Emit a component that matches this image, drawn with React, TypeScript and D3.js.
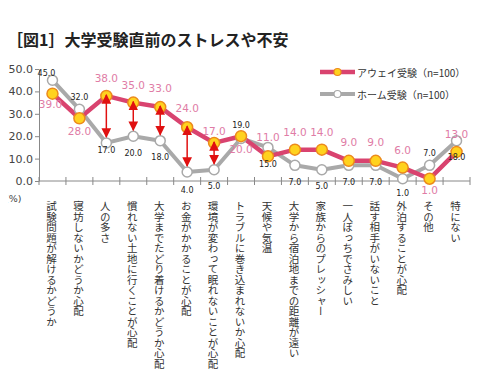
import { useEffect, useRef } from "react";
import * as d3 from "d3";

const categories = [
  "試験問題が解けるかどうか",
  "寝坊しないかどうか心配",
  "人の多さ",
  "慣れない土地に行くことが心配",
  "大学までたどり着けるかどうか心配",
  "お金がかかることが心配",
  "環境が変わって眠れないことが心配",
  "トラブルに巻き込まれないか心配",
  "天候や気温",
  "大学から宿泊地までの距離が遠い",
  "家族からのプレッシャー",
  "一人ぼっちでさみしい",
  "話す相手がいないこと",
  "外泊することが心配",
  "その他",
  "特にない",
];
const awayValues = [39, 28, 38, 35, 33, 24, 17, 20, 11, 14, 14, 9, 9, 6, 1, 13];
const homeValues = [45, 32, 17, 20, 18, 4, 5, 19, 15, 7, 5, 7, 7, 1, 7, 18];
const yTicks = [0, 10, 20, 30, 40, 50];
const arrowCategories = [
  "人の多さ",
  "慣れない土地に行くことが心配",
  "大学までたどり着けるかどうか心配",
  "お金がかかることが心配",
  "環境が変わって眠れないことが心配",
];
const seriesNames = ["アウェイ受験（n=100）", "ホーム受験（n=100）"];

// where each value label sits relative to its point
const awayLabelDy = [10, 13, -18, -18, -19, -19, -12, 13, -19, -18, -18, -19, -19, -18, 11, -18];
const homeLabelDy = [-7, -12, 8, 17, 17, 18, 17, -13, 17, 17, 17, 17, 17, 15, -12, 17];

const PINK = "#d9436f";
const PINK_TEXT = "#e07ca6";
const GRAY = "#a9a9a9";
const JP = "'Noto Sans CJK JP', 'Noto Sans', sans-serif";

const App = () => {
  const chartRef = useRef(null);

  useEffect(() => {
    const width = 479;
    const height = 386;

    const svg = d3
      .select(chartRef.current)
      .append("svg")
      .attr("width", width)
      .attr("height", height)
      .style("display", "block")
      .style("font-family", JP);

    const x = d3.scaleBand().domain(categories).range([39, 470]);
    const y = d3.scaleLinear().domain([0, 50]).range([181, 69]);
    const cx = (c: string) => x(c)! + x.bandwidth() / 2;

    // title
    svg
      .append("text")
      .attr("x", 7)
      .attr("y", 46)
      .attr("font-size", 16)
      .attr("font-weight", "bold")
      .attr("fill", "#222")
      .text("［図1］大学受験直前のストレスや不安");

    // y axis
    svg
      .append("g")
      .attr("transform", "translate(39,0)")
      .call(
        d3
          .axisLeft(y)
          .tickValues(yTicks)
          .tickSize(4)
          .tickSizeOuter(0)
          .tickFormat(d3.format(".1f") as never),
      )
      .call((g) => {
        g.select(".domain").attr("stroke", "#888");
        g.selectAll(".tick line").attr("stroke", "#888");
        g.selectAll(".tick text")
          .attr("font-size", 11)
          .attr("font-family", "'DejaVu Sans', sans-serif")
          .attr("fill", "#444")
          .attr("x", -6);
      });

    // x axis with ticks between categories
    svg
      .append("line")
      .attr("x1", 39)
      .attr("x2", 470)
      .attr("y1", y(0))
      .attr("y2", y(0))
      .attr("stroke", "#888");
    svg
      .append("g")
      .selectAll("line")
      .data(d3.range(categories.length + 1))
      .join("line")
      .attr("x1", (i) => x.range()[0] + i * x.step())
      .attr("x2", (i) => x.range()[0] + i * x.step())
      .attr("y1", y(0) - 4)
      .attr("y2", y(0) + 4)
      .attr("stroke", "#888");

    svg
      .append("text")
      .attr("x", 5)
      .attr("y", 202)
      .attr("font-size", 9.5)
      .attr("font-family", "'DejaVu Sans', sans-serif")
      .attr("fill", "#444")
      .text("(%)");

    // category labels (vertical)
    svg
      .append("g")
      .selectAll("text")
      .data(categories)
      .join("text")
      .attr("x", (d) => cx(d) - 1)
      .attr("y", 201)
      .attr("font-size", 10.5)
      .attr("fill", "#333")
      .style("writing-mode", "vertical-rl")
      .style("text-orientation", "upright")
      .text((d) => d);

    const line = d3
      .line<number>()
      .x((_, i) => cx(categories[i]))
      .y((d) => y(d));

    svg
      .append("path")
      .datum(homeValues)
      .attr("d", line)
      .attr("fill", "none")
      .attr("stroke", GRAY)
      .attr("stroke-width", 4)
      .attr("stroke-linejoin", "round");

    svg
      .append("path")
      .datum(awayValues)
      .attr("d", line)
      .attr("fill", "none")
      .attr("stroke", PINK)
      .attr("stroke-width", 4.5)
      .attr("stroke-linejoin", "round");

    svg
      .append("g")
      .selectAll("circle")
      .data(homeValues)
      .join("circle")
      .attr("cx", (_, i) => cx(categories[i]))
      .attr("cy", (d) => y(d))
      .attr("r", 5)
      .attr("fill", "#fff")
      .attr("stroke", GRAY)
      .attr("stroke-width", 1.5);

    svg
      .append("g")
      .selectAll("circle")
      .data(awayValues)
      .join("circle")
      .attr("cx", (_, i) => cx(categories[i]))
      .attr("cy", (d) => y(d))
      .attr("r", 5.5)
      .attr("fill", "#ffd21e")
      .attr("stroke", "#ec8a1c")
      .attr("stroke-width", 1.5);

    // red double arrows for the biggest gaps
    svg
      .append("defs")
      .append("marker")
      .attr("id", "head")
      .attr("viewBox", "0 0 10 10")
      .attr("refX", 9)
      .attr("refY", 5)
      .attr("markerWidth", 6.5)
      .attr("markerHeight", 6.5)
      .attr("orient", "auto-start-reverse")
      .append("path")
      .attr("d", "M0,0L10,5L0,10z")
      .attr("fill", "#e01010");

    svg
      .append("g")
      .selectAll("line")
      .data(arrowCategories)
      .join("line")
      .attr("x1", (d) => cx(d))
      .attr("x2", (d) => cx(d))
      .attr("y1", (d) => y(awayValues[categories.indexOf(d)]) - 1)
      .attr("y2", (d) => y(homeValues[categories.indexOf(d)]) - 6)
      .attr("stroke", "#e01010")
      .attr("stroke-width", 1.5)
      .attr("marker-start", "url(#head)")
      .attr("marker-end", "url(#head)");

    // value labels
    svg
      .append("g")
      .selectAll("text")
      .data(awayValues)
      .join("text")
      .attr("x", (_, i) => cx(categories[i]) - (i === 0 ? 2 : 0))
      .attr("y", (d, i) => y(d) + awayLabelDy[i])
      .attr("text-anchor", "middle")
      .attr("dominant-baseline", "central")
      .attr("font-size", 10.5)
      .attr("font-family", "'DejaVu Sans', sans-serif")
      .attr("fill", PINK_TEXT)
      .text((d) => d.toFixed(1));

    svg
      .append("g")
      .selectAll("text")
      .data(homeValues)
      .join("text")
      .attr("x", (_, i) => cx(categories[i]) - (i === 0 ? 6 : 0))
      .attr("y", (d, i) => y(d) + homeLabelDy[i])
      .attr("text-anchor", "middle")
      .attr("dominant-baseline", "central")
      .attr("font-size", 8)
      .attr("font-family", "'DejaVu Sans', sans-serif")
      .attr("fill", "#222")
      .text((d) => d.toFixed(1));

    // legend
    const legend = svg
      .append("g")
      .selectAll("g")
      .data(seriesNames)
      .join("g")
      .attr("transform", (_, i) => `translate(320,${72 + i * 22})`);
    legend
      .append("line")
      .attr("x1", 0)
      .attr("x2", 35)
      .attr("stroke", (_, i) => (i === 0 ? PINK : GRAY))
      .attr("stroke-width", (_, i) => (i === 0 ? 4.5 : 4));
    legend
      .append("circle")
      .attr("cx", 17.5)
      .attr("r", 3.5)
      .attr("fill", (_, i) => (i === 0 ? "#ffd21e" : "#fff"))
      .attr("stroke", (_, i) => (i === 0 ? "#ec8a1c" : GRAY))
      .attr("stroke-width", 1.2);
    legend
      .append("text")
      .attr("x", 37)
      .attr("dominant-baseline", "central")
      .attr("font-size", 10)
      .attr("fill", "#333")
      .text((d) => d);

    return () => {
      d3.select(chartRef.current).selectAll("*").remove();
    };
  }, []);

  return <div ref={chartRef} style={{ margin: -8 }}></div>;
};

export default App;
